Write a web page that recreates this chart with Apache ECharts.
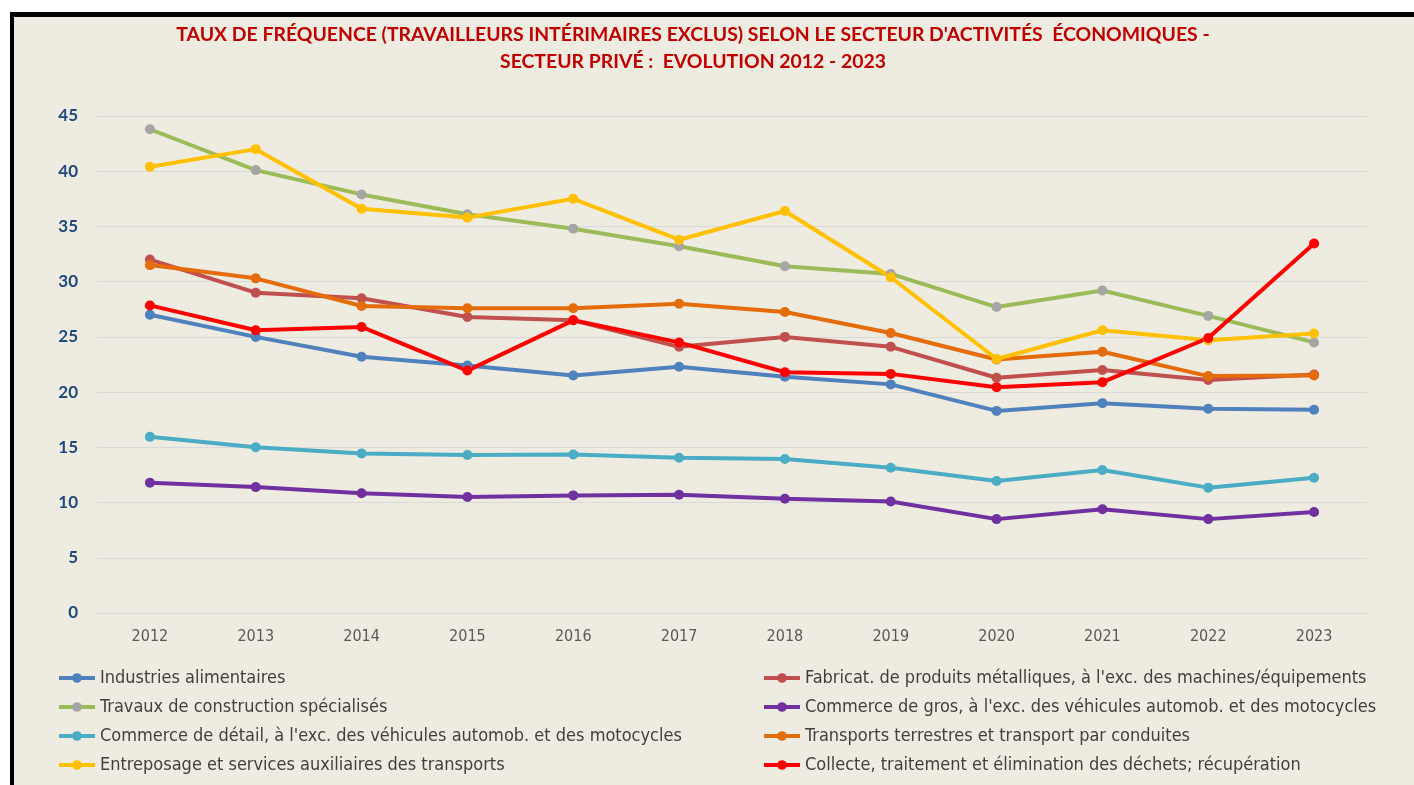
<!DOCTYPE html>
<html>
<head>
<meta charset="utf-8">
<script src="https://cdn.jsdelivr.net/npm/echarts@6/dist/echarts.min.js"></script>
<style>
  html, body { margin: 0; padding: 0; background: #ffffff; overflow: hidden; }
  #panel { position: absolute; left: 10px; top: 12px; width: 1420px; height: 800px;
           background: #EEEBE0; border-top: 5px solid #000; border-left: 4px solid #000; }
  #chart { position: absolute; left: 0; top: 0; width: 1414px; height: 785px; }
</style>
</head>
<body>
<div id="panel"></div>
<div id="chart"></div>
<script>
// Years on the category axis
const years = ['2012','2013','2014','2015','2016','2017','2018','2019','2020','2021','2022','2023'];

// Frequency rates by economic sector (temporary workers excluded)
const industriesAlimentaires = [27.0, 25.0, 23.2, 22.4, 21.5, 22.3, 21.4, 20.7, 18.3, 19.0, 18.5, 18.4];
const fabricatMetalliques    = [32.0, 29.0, 28.5, 26.8, 26.5, 24.1, 25.0, 24.1, 21.3, 22.0, 21.1, 21.6];
const travauxConstruction    = [43.8, 40.1, 37.9, 36.1, 34.8, 33.2, 31.4, 30.7, 27.7, 29.2, 26.9, 24.5];
const commerceGros           = [11.8, 11.4, 10.85, 10.5, 10.65, 10.7, 10.35, 10.1, 8.5, 9.4, 8.5, 9.15];
const commerceDetail         = [15.95, 15.0, 14.45, 14.3, 14.35, 14.05, 13.95, 13.15, 11.95, 12.95, 11.35, 12.25];
const transportsTerrestres   = [31.5, 30.3, 27.8, 27.6, 27.6, 28.0, 27.25, 25.35, 22.95, 23.65, 21.45, 21.5];
const entreposage            = [40.4, 42.0, 36.6, 35.8, 37.5, 33.8, 36.4, 30.4, 23.0, 25.6, 24.7, 25.3];
const collecteDechets        = [27.85, 25.6, 25.9, 21.95, 26.5, 24.5, 21.8, 21.65, 20.45, 20.9, 24.9, 33.45];

const names = [
  'Industries alimentaires',
  "Fabricat. de produits métalliques, à l'exc. des machines/équipements",
  'Travaux de construction spécialisés',
  "Commerce de gros, à l'exc. des véhicules automob. et des motocycles",
  "Commerce de détail, à l'exc. des véhicules automob. et des motocycles",
  'Transports terrestres et transport par conduites',
  'Entreposage et services auxiliaires des transports',
  'Collecte, traitement et élimination des déchets; récupération'
];
const values = [industriesAlimentaires, fabricatMetalliques, travauxConstruction, commerceGros,
                commerceDetail, transportsTerrestres, entreposage, collecteDechets];
const lineColors   = ['#4F81BD', '#C0504D', '#9BBB59', '#7030A0', '#4BACC6', '#E46C0A', '#FFC000', '#FF0000'];
const markerColors = ['#4F81BD', '#C0504D', '#A5A5A5', '#7030A0', '#4BACC6', '#E46C0A', '#FFC000', '#FF0000'];

const series = names.map((n, i) => ({
  name: n,
  type: 'line',
  data: values[i],
  symbol: 'circle',
  symbolSize: 10,
  lineStyle: { color: lineColors[i], width: 4 },
  itemStyle: { color: markerColors[i] },
  emphasis: { disabled: true },
  animation: false
}));

const condensed = 'DejaVu Sans Condensed, DejaVu Sans, sans-serif';
const legendText = { color: '#404040', fontSize: 18, lineHeight: 18, fontFamily: condensed };
const legendBase = {
  orient: 'vertical', top: 669, padding: 0,
  itemWidth: 36, itemHeight: 12, itemGap: 11,
  lineStyle: { width: 4 },
  textStyle: legendText
};

const chart = echarts.init(document.getElementById('chart'));
chart.setOption({
  backgroundColor: 'transparent',
  animation: false,
  title: {
    text: "TAUX DE FRÉQUENCE (TRAVAILLEURS INTÉRIMAIRES EXCLUS) SELON LE SECTEUR D'ACTIVITÉS  ÉCONOMIQUES -\nSECTEUR PRIVÉ :  EVOLUTION 2012 - 2023",
    left: 688,
    top: 16,
    textAlign: 'center',
    textStyle: { color: '#C00000', fontSize: 19.4, fontWeight: 'bold', fontFamily: 'Lato, Open Sans, sans-serif', lineHeight: 27, align: 'center' }
  },
  grid: { left: 97, right: 47, top: 116, bottom: 172, containLabel: false },
  xAxis: {
    type: 'category',
    data: years,
    boundaryGap: true,
    axisLine: { show: true, lineStyle: { color: '#D9D9D9', width: 1 } },
    axisTick: { show: false },
    axisLabel: { color: '#595959', fontSize: 16, margin: 16, fontFamily: condensed }
  },
  yAxis: {
    type: 'value',
    min: 0, max: 45, interval: 5,
    axisLine: { show: false },
    axisTick: { show: false },
    splitLine: { lineStyle: { color: '#D9D9D9', width: 1 } },
    axisLabel: { color: '#1F497D', fontSize: 17, fontWeight: 'bold', margin: 19, fontFamily: 'Lato, Open Sans, sans-serif' }
  },
  legend: [
    Object.assign({}, legendBase, { data: [names[0], names[2], names[4], names[6]], left: 57 }),
    Object.assign({}, legendBase, { data: [names[1], names[3], names[5], names[7]], left: 762 })
  ],
  series: series
});
</script>
</body>
</html>
